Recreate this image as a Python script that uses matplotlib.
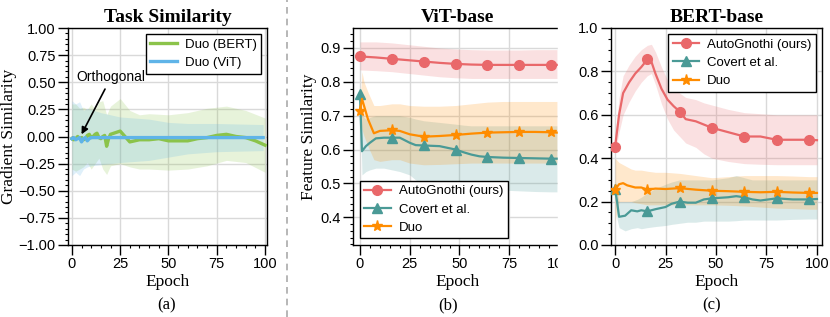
import matplotlib
matplotlib.use("Agg")
import matplotlib.pyplot as plt
from matplotlib.ticker import AutoMinorLocator, MultipleLocator
from matplotlib.patches import Rectangle
from matplotlib.lines import Line2D

plt.rcParams["font.family"] = ["Liberation Sans", "DejaVu Sans"]
SERIF = ["Liberation Serif", "DejaVu Serif"]

# ---------- (a) Task similarity ----------
a_bert_x = [0, 1, 2, 3, 4, 5, 6, 7, 8, 9, 10, 11, 12, 13, 14, 15, 16, 17, 18, 19, 20,
            25, 30, 35, 40, 45, 50, 55, 60, 65, 70, 75, 80, 85, 90, 95, 100]
a_bert = [-0.02, -0.03, -0.02, 0.0, -0.02, -0.01, -0.03, -0.02, 0.01, 0.02, -0.01,
          0.0, 0.02, 0.03, -0.01, -0.02, 0.0, 0.01, -0.09, -0.02, 0.02,
          0.05, -0.05, -0.03, -0.03, -0.02, -0.04, -0.04, -0.04, -0.02, -0.01,
          0.01, 0.02, 0.0, -0.01, -0.04, -0.08]
a_bert_band_x = [0, 2, 4, 6, 8, 10, 12, 14, 16, 18, 20, 25, 30, 35, 40, 50, 60, 70, 80, 90, 100]
a_bert_hi = [0.30, 0.30, 0.26, 0.27, 0.25, 0.30, 0.25, 0.32, 0.33, 0.20, 0.28,
             0.35, 0.24, 0.20, 0.21, 0.20, 0.22, 0.26, 0.28, 0.24, 0.17]
a_bert_lo = [-0.30, -0.32, -0.30, -0.28, -0.24, -0.30, -0.25, -0.20, -0.30, -0.35, -0.27,
             -0.25, -0.28, -0.30, -0.30, -0.31, -0.30, -0.27, -0.22, -0.24, -0.33]

a_vit_x = [0, 1, 2, 3, 4, 5, 6, 7, 8, 9, 10, 15, 99]
a_vit = [-0.02, -0.01, -0.03, -0.02, -0.01, -0.05, -0.02, -0.01, -0.04, -0.02, -0.01, -0.01, -0.01]
a_vit_band_x = [0, 2, 4, 6, 8, 10, 15, 25, 40, 50, 60, 75, 99]
a_vit_hi = [0.33, 0.30, 0.32, 0.24, 0.26, 0.25, 0.22, 0.18, 0.16, 0.13, 0.12, 0.12, 0.11]
a_vit_lo = [-0.36, -0.33, -0.36, -0.30, -0.28, -0.27, -0.26, -0.24, -0.22, -0.19, -0.16, -0.14, -0.13]

# ---------- (b) ViT-base ----------
b_ours_x = [0, 8, 16, 24, 32, 40, 48, 56, 64, 72, 80, 88, 96, 99]
b_ours = [0.875, 0.872, 0.868, 0.864, 0.860, 0.856, 0.853, 0.851, 0.850, 0.850, 0.850, 0.850, 0.850, 0.850]
b_ours_hi = [0.918, 0.918, 0.915, 0.910, 0.905, 0.900, 0.897, 0.895, 0.894, 0.894, 0.894, 0.895, 0.895, 0.895]
b_ours_lo = [0.835, 0.833, 0.830, 0.825, 0.820, 0.815, 0.812, 0.810, 0.810, 0.810, 0.810, 0.810, 0.810, 0.810]

b_cov_x = [0, 1, 3, 5, 8, 12, 16, 20, 25, 28, 32, 40, 48, 52, 56, 60, 64, 72, 80, 88, 96, 99]
b_cov = [0.765, 0.595, 0.61, 0.62, 0.633, 0.635, 0.635, 0.635, 0.62, 0.613, 0.612, 0.61,
         0.600, 0.592, 0.585, 0.580, 0.578, 0.576, 0.575, 0.574, 0.573, 0.573]
b_cov_hi = [0.77, 0.70, 0.69, 0.695, 0.70, 0.70, 0.70, 0.70, 0.695, 0.69, 0.685, 0.68,
            0.675, 0.672, 0.67, 0.67, 0.67, 0.67, 0.67, 0.67, 0.67, 0.67]
b_cov_lo = [0.76, 0.525, 0.535, 0.54, 0.545, 0.545, 0.54, 0.535, 0.525, 0.51, 0.50, 0.495,
            0.49, 0.487, 0.485, 0.482, 0.48, 0.48, 0.478, 0.476, 0.475, 0.475]

b_duo_x = [0, 1, 2, 4, 7, 10, 16, 20, 25, 32, 40, 48, 56, 64, 72, 80, 88, 96, 99]
b_duo = [0.715, 0.75, 0.73, 0.69, 0.648, 0.655, 0.657, 0.655, 0.645, 0.638, 0.640, 0.643,
         0.647, 0.650, 0.651, 0.652, 0.652, 0.651, 0.650]
b_duo_hi = [0.72, 0.83, 0.80, 0.77, 0.73, 0.73, 0.735, 0.735, 0.73, 0.728, 0.728, 0.73,
            0.735, 0.74, 0.742, 0.742, 0.742, 0.742, 0.742]
b_duo_lo = [0.71, 0.66, 0.64, 0.61, 0.57, 0.565, 0.57, 0.57, 0.56, 0.555, 0.556, 0.558,
            0.56, 0.56, 0.56, 0.56, 0.56, 0.56, 0.56]

# ---------- (c) BERT-base ----------
c_ours_x = [0, 2, 4, 7, 10, 13, 16, 18, 20, 23, 26, 29, 32, 35, 40, 44, 48, 56, 64, 72, 80, 88, 96, 100]
c_ours = [0.45, 0.60, 0.70, 0.75, 0.79, 0.82, 0.855, 0.845, 0.79, 0.72, 0.67, 0.64, 0.615,
          0.58, 0.57, 0.555, 0.54, 0.52, 0.50, 0.50, 0.485, 0.485, 0.485, 0.483]
c_ours_hi = [0.50, 0.68, 0.78, 0.83, 0.87, 0.90, 0.92, 0.925, 0.89, 0.82, 0.76, 0.72, 0.70,
             0.68, 0.67, 0.655, 0.645, 0.625, 0.61, 0.605, 0.60, 0.60, 0.60, 0.60]
c_ours_lo = [0.42, 0.52, 0.60, 0.66, 0.71, 0.75, 0.78, 0.79, 0.74, 0.65, 0.58, 0.53, 0.50,
             0.47, 0.45, 0.42, 0.40, 0.385, 0.375, 0.372, 0.37, 0.37, 0.37, 0.37]

c_cov_x = [0, 1, 2, 5, 8, 11, 13, 16, 20, 25, 28, 32, 36, 40, 44, 48, 56, 60, 64, 68, 72, 80, 88, 96, 100]
c_cov = [0.26, 0.20, 0.13, 0.135, 0.16, 0.155, 0.16, 0.155, 0.165, 0.175, 0.19, 0.20, 0.195,
         0.195, 0.21, 0.215, 0.22, 0.225, 0.22, 0.21, 0.205, 0.215, 0.21, 0.21, 0.212]
c_cov_hi = [0.30, 0.25, 0.20, 0.20, 0.20, 0.21, 0.22, 0.24, 0.26, 0.28, 0.29, 0.30, 0.30,
            0.30, 0.30, 0.30, 0.31, 0.32, 0.31, 0.30, 0.30, 0.30, 0.30, 0.30, 0.30]
c_cov_lo = [0.22, 0.12, 0.08, 0.065, 0.075, 0.08, 0.075, 0.08, 0.085, 0.09, 0.095, 0.10, 0.105,
            0.105, 0.11, 0.11, 0.11, 0.112, 0.115, 0.115, 0.115, 0.115, 0.118, 0.12, 0.12]

c_duo_x = [0, 2, 4, 6, 8, 10, 13, 16, 20, 25, 32, 40, 48, 56, 64, 72, 80, 88, 96, 100]
c_duo = [0.255, 0.28, 0.285, 0.275, 0.27, 0.265, 0.265, 0.255, 0.26, 0.258, 0.262, 0.255,
         0.25, 0.248, 0.245, 0.243, 0.245, 0.242, 0.24, 0.24]
c_duo_hi = [0.40, 0.38, 0.37, 0.36, 0.35, 0.345, 0.345, 0.34, 0.335, 0.335, 0.33, 0.32,
            0.31, 0.315, 0.32, 0.32, 0.32, 0.318, 0.315, 0.315]
c_duo_lo = [0.11, 0.20, 0.20, 0.20, 0.20, 0.195, 0.19, 0.185, 0.185, 0.185, 0.185, 0.185,
            0.185, 0.183, 0.18, 0.175, 0.17, 0.168, 0.165, 0.165]

marker_epochs = [0, 16, 32, 48, 64, 80, 96]

RED = "#e9686a"
TEAL = "#4a9a96"
ORANGE = "#ff8c00"
GREEN = "#8bc34a"
BLUE = "#5fb4e8"

W, H = 830, 317
fig = plt.figure(figsize=(W / 100, H / 100), dpi=100)


def px_axes(left, right, top, bottom):
    return fig.add_axes([left / W, 1 - bottom / H, (right - left) / W, (bottom - top) / H])


def style(ax):
    ax.grid(True, color="#d9d9d9", lw=1.0, zorder=0)
    ax.set_axisbelow(True)
    ax.xaxis.set_major_locator(MultipleLocator(25))
    ax.xaxis.set_minor_locator(AutoMinorLocator(5))
    ax.yaxis.set_minor_locator(AutoMinorLocator())
    ax.tick_params(which="major", direction="out", length=7, width=1, pad=2,
                   labelsize=10.5, top=False, right=False)
    ax.tick_params(which="minor", direction="out", length=2.5, width=0.8,
                   top=False, right=False)
    for s in ax.spines.values():
        s.set_linewidth(1.0)
    ax.set_xlabel("Epoch", family=SERIF, fontsize=12.5, labelpad=2)


def marks(xs):
    return [i for i, e in enumerate(xs) if e in marker_epochs]


def boxed_legend(ax, **kw):
    leg = ax.legend(fontsize=9.5, frameon=True, fancybox=False, edgecolor="black",
                    handlelength=2.0, labelspacing=0.45, borderpad=0.35,
                    handletextpad=0.6, **kw)
    leg.get_frame().set_linewidth(1.0)
    leg.get_frame().set_alpha(1)
    return leg


# panel (a)
ax1 = px_axes(68, 267, 28, 245)
ax1.fill_between(a_bert_band_x, a_bert_lo, a_bert_hi, color=GREEN, alpha=0.2, lw=0)
ax1.fill_between(a_vit_band_x, a_vit_lo, a_vit_hi, color=BLUE, alpha=0.2, lw=0)
ax1.plot([0, 100], [0, 0], color="gray", ls=":", lw=1.2, zorder=3)
ax1.plot(a_bert_x, a_bert, color=GREEN, lw=2.4, label="Duo (BERT)", zorder=4)
ax1.plot(a_vit_x, a_vit, color=BLUE, lw=2.4, label="Duo (ViT)", zorder=5)
ax1.annotate("Orthogonal", xy=(5, 0.02), xytext=(2.5, 0.55), fontsize=10,
             va="center", ha="left",
             arrowprops=dict(arrowstyle="-|>", color="black", lw=1.2,
                             shrinkA=2, shrinkB=0, mutation_scale=10,
                             relpos=(0.45, 0.0)),
             zorder=6)
ax1.set_xlim(-2, 101)
ax1.set_ylim(-1, 1)
ax1.yaxis.set_major_locator(MultipleLocator(0.25))
ax1.yaxis.set_major_formatter(plt.FuncFormatter(lambda v, p: f"{v:.2f}".replace("-", "\u2212")))
style(ax1)
ax1.set_ylabel("Gradient Similarity", family=SERIF, fontsize=12.5, labelpad=1)
ax1.set_title("Task Similarity", family=SERIF, fontsize=14, fontweight="bold", pad=4)
boxed_legend(ax1, loc="upper right", borderaxespad=0.45)


# panels (b) and (c)
def panel(ax, ours, cov, duo):
    for (x, y, hi, lo), color, mk, ms, lab in [
        (ours, RED, "o", 7, "AutoGnothi (ours)"),
        (cov, TEAL, "^", 7, "Covert et al."),
        (duo, ORANGE, "*", 8, "Duo"),
    ]:
        ax.fill_between(x, lo, hi, color=color, alpha=0.2, lw=0)
        ax.plot(x, y, color=color, lw=1.6, marker=mk, ms=ms, markevery=marks(x),
                label=lab, zorder=4)


ax2 = px_axes(353, 562, 28, 245)
panel(ax2, (b_ours_x, b_ours, b_ours_hi, b_ours_lo),
      (b_cov_x, b_cov, b_cov_hi, b_cov_lo),
      (b_duo_x, b_duo, b_duo_hi, b_duo_lo))
ax2.set_xlim(-3.5, 101.5)
ax2.set_ylim(0.318, 0.959)
ax2.yaxis.set_major_locator(MultipleLocator(0.1))
style(ax2)
ax2.set_ylabel("Feature Similarity", family=SERIF, fontsize=12.5, labelpad=2)
ax2.set_title("ViT-base", family=SERIF, fontsize=14, fontweight="bold", pad=4)
boxed_legend(ax2, loc="lower left", borderaxespad=0.5)

ax3 = px_axes(611, 822, 28, 245)
panel(ax3, (c_ours_x, c_ours, c_ours_hi, c_ours_lo),
      (c_cov_x, c_cov, c_cov_hi, c_cov_lo),
      (c_duo_x, c_duo, c_duo_hi, c_duo_lo))
ax3.set_xlim(-2, 102.5)
ax3.set_ylim(0, 1.0)
ax3.yaxis.set_major_locator(MultipleLocator(0.2))
style(ax3)
ax3.set_title("BERT-base", family=SERIF, fontsize=14, fontweight="bold", pad=4)
boxed_legend(ax3, loc="upper right", borderaxespad=0.45)

# the source figure is cropped just right of the ViT panel
fig.add_artist(Rectangle((558 / W, 0), 14 / W, 1, transform=fig.transFigure,
                         color="white", zorder=10))

# subfigure captions and separator
for xc, lab in [(167, "(a)"), (448, "(b)"), (712, "(c)")]:
    fig.text(xc / W, 1 - 305 / H, lab, family=SERIF, fontsize=12, ha="center", va="center")
fig.add_artist(Line2D([287 / W, 287 / W], [0, 1], transform=fig.transFigure,
                      color="#aaaaaa", ls=(0, (4, 3)), lw=1.2))

fig.savefig("out.png", dpi=100)
